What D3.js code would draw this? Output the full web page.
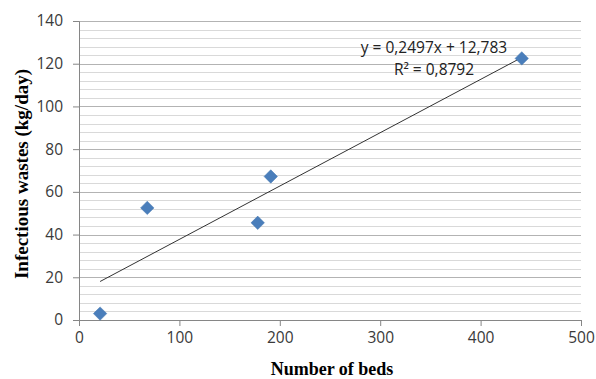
<!DOCTYPE html>
<html>
<head>
<meta charset="utf-8">
<script src="https://cdn.jsdelivr.net/npm/d3@7"></script>
<style>
  body { margin: 0; background: #fff; }
  svg { display: block; }
</style>
</head>
<body>
<script>
// data
var beds = [21, 68, 178, 191, 441];
var wastes = [3, 52.5, 45.5, 67.2, 122.5];
var xTicks = [0, 100, 200, 300, 400, 500];
var yTicks = [0, 20, 40, 60, 80, 100, 120, 140];
var trendSlope = 0.2497, trendIntercept = 12.783;
var trendLabel = ["y = 0,2497x + 12,783", "R² = 0,8792"];

var margin = {top: 21, right: 15, bottom: 59, left: 79},
    width = 596 - margin.left - margin.right,
    height = 379 - margin.top - margin.bottom;

var x = d3.scaleLinear().domain([0, 500]).range([0, width]);
var y = d3.scaleLinear().domain([0, 140]).range([height, 0]);

var svg = d3.select("body").append("svg")
    .attr("width", 596)
    .attr("height", 379)
  .append("g")
    .attr("transform", "translate(" + margin.left + "," + margin.top + ")");

// minor gridlines every 4
var minor = d3.range(0, 141, 4).filter(function(v) { return v % 20 != 0; });
svg.selectAll(".minor").data(minor).enter().append("line")
    .attr("x1", 0).attr("x2", width)
    .attr("y1", function(d) { return Math.round(y(d)) + 0.5; })
    .attr("y2", function(d) { return Math.round(y(d)) + 0.5; })
    .attr("stroke", "#d9d9d9");

// major gridlines
svg.selectAll(".major").data(yTicks.slice(1)).enter().append("line")
    .attr("x1", 0).attr("x2", width)
    .attr("y1", function(d) { return Math.round(y(d)) + 0.5; })
    .attr("y2", function(d) { return Math.round(y(d)) + 0.5; })
    .attr("stroke", "#b3b3b3");

// axes
var xAxis = svg.append("g")
    .attr("transform", "translate(0," + height + ")")
    .call(d3.axisBottom(x).tickValues(xTicks).tickSize(6).tickPadding(6));
var yAxis = svg.append("g")
    .call(d3.axisLeft(y).tickValues(yTicks).tickSize(6).tickPadding(10));

[xAxis, yAxis].forEach(function(a) {
  a.select(".domain").attr("stroke", "#868686");
  a.selectAll(".tick line").attr("stroke", "#868686");
  a.selectAll("text")
      .attr("font-family", "'Open Sans', sans-serif")
      .attr("font-size", 15.5)
      .attr("fill", "#3a3a3a");
});

// trend line
var xmin = d3.min(beds), xmax = d3.max(beds);
svg.append("line")
    .attr("x1", x(xmin)).attr("y1", y(trendSlope * xmin + trendIntercept))
    .attr("x2", x(xmax)).attr("y2", y(trendSlope * xmax + trendIntercept))
    .attr("stroke", "#333")
    .attr("stroke-width", 1);

// points
svg.selectAll(".pt").data(beds).enter().append("path")
    .attr("d", d3.symbol().type(d3.symbolDiamond2).size(115))
    .attr("transform", function(d, i) { return "translate(" + x(d) + "," + y(wastes[i]) + ")"; })
    .attr("fill", "#4a7ebb")
    .attr("stroke", "#3f72ad")
    .attr("stroke-width", 0.5);

// trend equation
svg.selectAll(".eq").data(trendLabel).enter().append("text")
    .attr("x", 434 - margin.left)
    .attr("y", function(d, i) { return 53 - margin.top + i * 22; })
    .attr("text-anchor", "middle")
    .attr("font-family", "'Open Sans', sans-serif")
    .attr("font-size", 15.5)
    .attr("fill", "#222")
    .text(function(d) { return d; });

// axis titles
svg.append("text")
    .attr("x", width / 2 + 2)
    .attr("y", height + 55)
    .attr("text-anchor", "middle")
    .attr("font-family", "'Liberation Serif', 'Times New Roman', serif")
    .attr("font-weight", "bold")
    .attr("font-size", 18)
    .text("Number of beds");

svg.append("text")
    .attr("transform", "translate(" + (-51) + "," + (174 - margin.top) + ") rotate(-90)")
    .attr("text-anchor", "middle")
    .attr("font-family", "'Liberation Serif', 'Times New Roman', serif")
    .attr("font-weight", "bold")
    .attr("font-size", 19)
    .text("Infectious wastes (kg/day)");
</script>
</body>
</html>
